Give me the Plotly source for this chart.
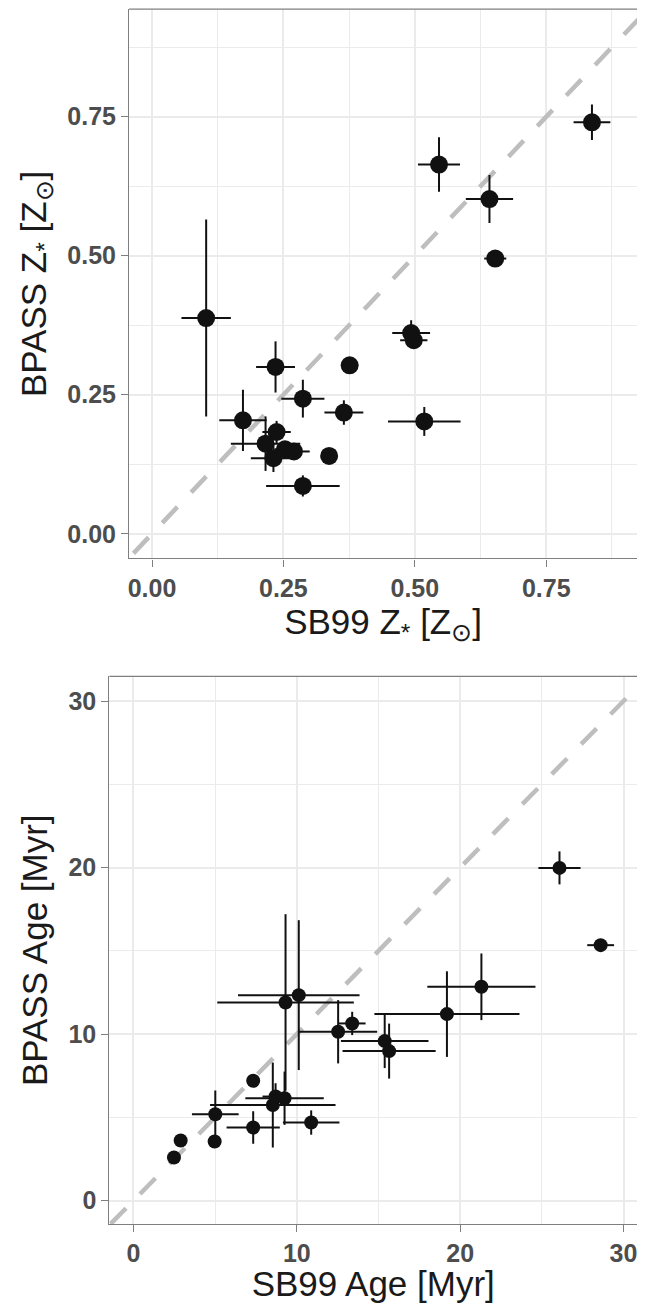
import plotly.graph_objects as go

# top panel: stellar metallicity, SB99 vs BPASS (Z_sun)
z_sb99 = [0.837, 0.546, 0.642, 0.653, 0.103, 0.235, 0.376, 0.493, 0.498, 0.287,
          0.365, 0.518, 0.173, 0.237, 0.216, 0.231, 0.253, 0.270, 0.337, 0.287]
z_bpass = [0.740, 0.664, 0.602, 0.495, 0.388, 0.300, 0.303, 0.361, 0.348, 0.243,
           0.218, 0.202, 0.204, 0.183, 0.162, 0.136, 0.152, 0.148, 0.140, 0.086]
z_sb99_err = [0.035, 0.040, 0.045, 0.021, 0.047, 0.037, 0.010, 0.036, 0.026, 0.041,
              0.037, 0.069, 0.045, 0.027, 0.066, 0.043, 0.020, 0.030, 0.010, 0.070]
z_bpass_err = [0.032, 0.049, 0.043, 0.010, 0.177, 0.046, 0.008, 0.023, 0.010, 0.034,
               0.022, 0.026, 0.055, 0.020, 0.049, 0.025, 0.010, 0.010, 0.008, 0.019]

# bottom panel: ages (Myr)
age_sb99 = [2.48, 2.89, 4.97, 5.01, 7.33, 7.33, 8.53, 8.70, 9.25, 9.31,
            10.12, 12.53, 13.39, 15.38, 15.65, 19.19, 21.30, 26.08, 28.60, 10.88]
age_bpass = [2.59, 3.61, 3.55, 5.19, 7.20, 4.39, 5.74, 6.25, 6.15, 11.90,
             12.34, 10.14, 10.64, 9.58, 8.98, 11.20, 12.84, 19.98, 15.34, 4.69]
age_sb99_err = [0.2, 0.2, 0.2, 1.43, 0.2, 1.63, 3.84, 0.8, 2.40, 4.18,
                3.72, 2.39, 0.82, 2.68, 2.85, 4.44, 3.31, 1.29, 0.82, 1.73]
age_bpass_err = [0.2, 0.2, 0.3, 1.42, 0.2, 0.97, 2.55, 0.8, 1.60, 5.30,
                 4.50, 1.90, 0.70, 1.62, 1.65, 2.57, 2.00, 0.99, 0.30, 0.73]

z_ticks = [0.0, 0.25, 0.5, 0.75]
z_ticklabels = ['0.00', '0.25', '0.50', '0.75']
z_minor = [0.125, 0.375, 0.625, 0.875]
age_ticks = [0, 10, 20, 30]
age_ticklabels = ['0', '10', '20', '30']
age_minor = [5, 15, 25]

# page body has an 8px margin on every side; keep the figure inside the window
OFF = 8
W, H = 645 - 2 * OFF, 1311 - 2 * OFF
FONT = "Liberation Sans, Arial, sans-serif"
INK = "#111111"
GRID = "#EBEBEB"
FRAME = "#7F7F7F"


def xdom(left_px):
    return [(left_px - OFF) / W, 1]


def ydom(top_px, bottom_px):
    return [1 - (bottom_px - OFF) / H, 1 - (top_px - OFF) / H]


fig = go.Figure()

# one-to-one lines
fig.add_trace(go.Scatter(x=[-0.2, 1.2], y=[-0.2, 1.2], mode='lines',
                         line=dict(color='#BEBEBE', width=4.5, dash='22px,20px'),
                         xaxis='x', yaxis='y', showlegend=False, hoverinfo='skip'))
fig.add_trace(go.Scatter(x=[-5, 40], y=[-5, 40], mode='lines',
                         line=dict(color='#BEBEBE', width=4.5, dash='22px,20px'),
                         xaxis='x2', yaxis='y2', showlegend=False, hoverinfo='skip'))

fig.add_trace(go.Scatter(
    x=z_sb99, y=z_bpass, mode='markers', xaxis='x', yaxis='y',
    marker=dict(color=INK, size=18),
    error_x=dict(type='data', array=z_sb99_err, width=0, thickness=2, color=INK),
    error_y=dict(type='data', array=z_bpass_err, width=0, thickness=2, color=INK),
    showlegend=False))

fig.add_trace(go.Scatter(
    x=age_sb99, y=age_bpass, mode='markers', xaxis='x2', yaxis='y2',
    marker=dict(color=INK, size=14),
    error_x=dict(type='data', array=age_sb99_err, width=0, thickness=2, color=INK),
    error_y=dict(type='data', array=age_bpass_err, width=0, thickness=2, color=INK),
    showlegend=False))

tickfont = dict(family=FONT, size=25, color='#4D4D4D', weight='bold')
titlefont = dict(family=FONT, size=35, color='#1A1A1A')


def axis(domain, rng, ticks, labels, minor, anchor, title, standoff):
    return dict(
        domain=domain, range=rng, anchor=anchor,
        tickmode='array', tickvals=ticks, ticktext=labels,
        ticks='outside', ticklen=7, tickwidth=1.3, tickcolor=FRAME,
        tickfont=tickfont, ticklabeloverflow='allow',
        showline=True, linecolor=FRAME, linewidth=1.3, mirror=False,
        showgrid=True, gridcolor=GRID, gridwidth=1.6,
        minor=dict(showgrid=True, tickmode='array', tickvals=minor, ticks='',
                   gridcolor=GRID, gridwidth=1),
        zeroline=False,
        title=dict(text=title, font=titlefont, standoff=standoff),
    )


fig.update_layout(
    width=W, height=H,
    margin=dict(l=0, r=0, t=0, b=0),
    paper_bgcolor='white', plot_bgcolor='white',
    xaxis=axis(xdom(128.3), [-0.0436, 0.9227], z_ticks, z_ticklabels, z_minor, 'y',
               'SB99 Z<sub>*</sub> [Z<sub>⊙</sub>]', 8),
    yaxis=axis(ydom(9.2, 559.3), [-0.0444, 0.9434], z_ticks, z_ticklabels, z_minor, 'x',
               'BPASS Z<sub>*</sub> [Z<sub>⊙</sub>]', 10),
    xaxis2=axis(xdom(108.6), [-1.47, 30.825], age_ticks, age_ticklabels, age_minor, 'y2',
                'SB99 Age [Myr]', 11),
    yaxis2=axis(ydom(677.4, 1226), [-1.41, 31.48], age_ticks, age_ticklabels, age_minor, 'x2',
                'BPASS Age [Myr]', 10),
)

# top edge of each panel frame (right edge is cut off in the original)
for xr, yr in [('x', 'y'), ('x2', 'y2')]:
    fig.add_shape(type='line', xref=f'{xr} domain', yref=f'{yr} domain',
                  x0=0, x1=1, y0=1, y1=1, line=dict(color=FRAME, width=1.3))

fig.write_html("out.html")
